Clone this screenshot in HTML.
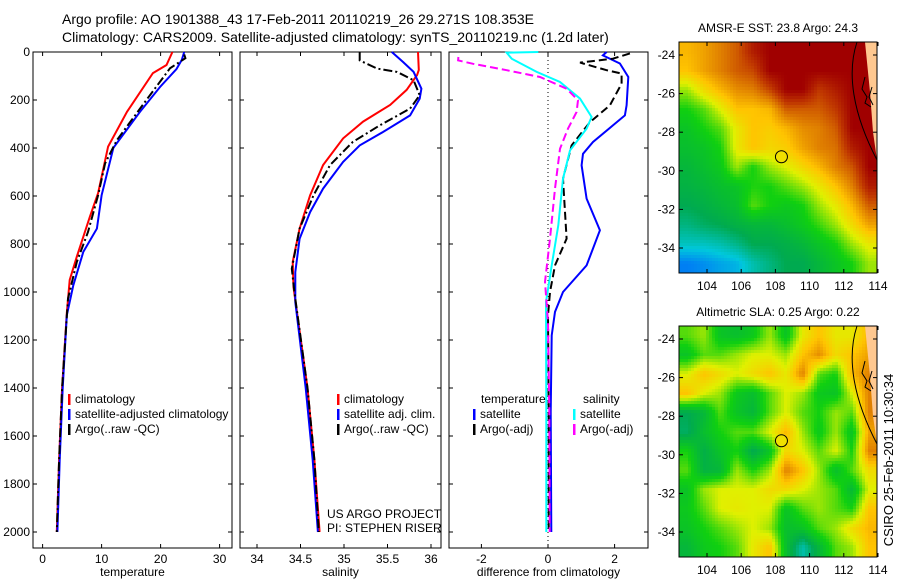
<!DOCTYPE html>
<html><head><meta charset="utf-8">
<style>
body{margin:0;background:#fff;}
svg{display:block;font-family:"Liberation Sans",sans-serif;}
text{fill:#000;}
</style></head>
<body>
<svg id="fig" width="900" height="580" viewBox="0 0 900 580" xmlns="http://www.w3.org/2000/svg">
<rect width="900" height="580" fill="#fff"/>
<text x="62" y="24" font-size="14">Argo profile: AO 1901388_43 17-Feb-2011 20110219_26 29.271S 108.353E</text>
<text x="62" y="42" font-size="14">Climatology: CARS2009. Satellite-adjusted climatology: synTS_20110219.nc (1.2d later)</text>
<g id="g1"></g>
<g id="g2"></g>
<g id="g3"></g>
<g id="m1"></g>
<g id="m2"></g>
<text x="0" y="0" font-size="13" transform="translate(893,460) rotate(-90)" text-anchor="middle">CSIRO 25-Feb-2011 10:30:34</text>
</svg>
<script>
// ---- profile data (depth in dbar, value) ----
const depthTempClim=[0,54,88,249,394,588,687,853,950,1088,1400,1700,2000];
const tempClim=[22.0,21.0,18.7,14.3,11.1,9.4,8.0,5.8,4.6,4.1,3.3,2.8,2.4];
const depthTempSat=[0,33,71,146,249,399,597,736,833,972,1097,1400,1700,2000];
const tempSat=[24.0,23.6,22.7,19.9,16.5,12.0,10.0,9.2,6.9,5.2,4.1,3.4,2.9,2.5];
const depthTempArgo=[10,26,68,200,367,464,597,750,875,1028,1400,1700,2000];
const tempArgo=[24.0,24.2,21.6,17.6,12.6,10.6,9.4,7.7,5.8,4.3,3.3,2.8,2.4];

const depthSalClim=[0,75,96,158,221,290,360,471,597,736,875,980,1400,1700,2000];
const salClim=[35.85,35.86,35.84,35.72,35.53,35.22,34.99,34.76,34.61,34.49,34.41,34.42,34.58,34.66,34.72];
const depthSalSat=[0,42,83,153,194,264,333,389,458,569,667,778,917,1042,1400,1700,2000];
const salSat=[35.55,35.68,35.80,35.89,35.87,35.76,35.45,35.18,34.99,34.76,34.61,34.49,34.44,34.44,34.56,34.64,34.70];
const depthSalArgo=[0,35,69,83,118,180,236,306,375,471,597,736,903,1000,1400,1700,2000];
const salArgo=[35.18,35.18,35.38,35.61,35.80,35.87,35.76,35.41,35.10,34.84,34.65,34.49,34.40,34.43,34.58,34.66,34.71];

const depthDTSat=[0,14,48,104,222,264,306,375,424,472,611,743,889,1000,1083,1181,1500,2000];
const diffTSat=[1.76,1.65,2.16,2.41,2.36,2.31,1.95,1.35,1.05,1.01,1.16,1.56,1.16,0.45,0.21,0.11,0.08,0.10];
const depthDTArgo=[6,28,44,76,90,132,222,292,389,528,778,889,1000,1097,1500,2000];
const diffTArgo=[2.46,1.95,0.96,1.76,2.21,2.21,1.86,1.26,0.71,0.45,0.56,0.21,0.06,0.0,0.02,0.02];
const depthDSSat=[0,3,28,83,125,194,271,319,410,528,722,889,1042,1500,2000];
const diffSSat=[-0.29,-1.24,-1.09,-0.34,0.36,0.96,1.31,1.16,0.66,0.45,0.31,0.11,-0.06,-0.05,-0.05];
const depthDSArgo=[21,35,49,76,104,153,201,250,319,403,569,778,958,1125,1500,2000];
const diffSArgo=[-2.69,-2.70,-2.25,-1.24,-0.24,0.56,0.90,0.86,0.60,0.36,0.21,0.06,-0.09,0.0,0.04,0.05];

const depthTicks=[0,200,400,600,800,1000,1200,1400,1600,1800,2000];
const tempTicks=[0,10,20,30];
const salTicks=[34,34.5,35,35.5,36];
const salTickLabels=["34","34.5","35","35.5","36"];
const diffTicks=[-2,0,2];
const diffTickLabels=["-2","0","2"];

// ---- map data (normalized colour index 0..1, rows top->bottom) ----
const sstRow0=[.72,.75,.80,.85,.95,1,1,1,1,1,1,1];
const sstRow1=[.70,.75,.80,.85,.88,1,1,1,1,1,1,1];
const sstRow2=[.55,.65,.72,.78,.80,.88,1,1,.90,.95,1,1];
const sstRow3=[.45,.50,.60,.70,.70,.72,.85,.85,.85,.90,1,1];
const sstRow4=[.40,.45,.50,.62,.70,.68,.72,.78,.80,.85,1,1];
const sstRow5=[.38,.40,.45,.62,.70,.66,.68,.75,.80,.82,.95,1];
const sstRow6=[.35,.38,.42,.55,.45,.55,.60,.66,.72,.80,.86,1];
const sstRow7=[.33,.35,.38,.40,.46,.45,.50,.55,.62,.70,.80,.95];
const sstRow8=[.30,.32,.35,.38,.50,.45,.42,.45,.55,.62,.72,.85];
const sstRow9=[.25,.28,.30,.33,.35,.35,.38,.42,.48,.55,.65,.75];
const sstRow10=[.18,.18,.20,.24,.30,.30,.32,.35,.40,.45,.55,.62];
const sstRow11=[.05,.07,.10,.12,.20,.25,.30,.30,.35,.40,.45,.55];
const slaRow0=[.50,.55,.40,.38,.42,.55,.40,.62,.70,.62,.62,.72];
const slaRow1=[.40,.50,.50,.55,.60,.60,.55,.70,.78,.65,.70,.75];
const slaRow2=[.60,.70,.65,.60,.65,.70,.62,.80,.50,.45,.72,.80];
const slaRow3=[.70,.60,.55,.42,.38,.50,.60,.55,.42,.40,.60,.80];
const slaRow4=[.30,.35,.50,.40,.35,.50,.60,.50,.45,.55,.50,.80];
const slaRow5=[.28,.38,.45,.50,.50,.60,.72,.55,.42,.55,.40,.75];
const slaRow6=[.45,.32,.40,.45,.30,.40,.66,.60,.50,.60,.45,.80];
const slaRow7=[.50,.33,.35,.55,.45,.55,.80,.70,.55,.38,.50,.65];
const slaRow8=[.40,.55,.60,.60,.60,.65,.65,.60,.55,.50,.36,.60];
const slaRow9=[.42,.50,.60,.62,.60,.60,.40,.50,.55,.50,.45,.70];
const slaRow10=[.40,.45,.50,.55,.60,.55,.38,.40,.50,.55,.65,.72];
const slaRow11=[.35,.42,.45,.50,.62,.70,.38,.20,.35,.50,.55,.70];
const mapLonTicks=[104,106,108,110,112,114];
const mapLatTicks=[-24,-26,-28,-30,-32,-34];
const floatLon=108.353, floatLat=-29.271;

const NS="http://www.w3.org/2000/svg";
function mk(parent,tag,attrs){const e=document.createElementNS(NS,tag);for(const k in attrs)e.setAttribute(k,attrs[k]);parent.appendChild(e);return e;}
const Y=d=>52+0.24*d;
const PT=52,PB=548;

function panel(g,x0,x1,xf,xticks,xlabels,xtitle,showY){
  mk(g,'rect',{x:x0,y:PT,width:x1-x0,height:PB-PT,fill:'none',stroke:'#000','stroke-width':1});
  depthTicks.forEach(d=>{
    const y=Y(d);
    let t=mk(g,'line',{x1:x0,x2:x0+4,y1:y,y2:y,stroke:'#000'});
    t=mk(g,'line',{x1:x1-4,x2:x1,y1:y,y2:y,stroke:'#000'});
    if(showY){const l=mk(g,'text',{x:x0-3,y:y+4,'font-size':12,'text-anchor':'end'});l.textContent=d;}
  });
  xticks.forEach((v,i)=>{
    const x=xf(v);
    let t=mk(g,'line',{x1:x,x2:x,y1:PB,y2:PB-4,stroke:'#000'});
    t=mk(g,'line',{x1:x,x2:x,y1:PT,y2:PT+4,stroke:'#000'});
    const l=mk(g,'text',{x:x,y:PB+15,'font-size':12,'text-anchor':'middle'});l.textContent=xlabels[i];
  });
  const tt=mk(g,'text',{x:(x0+x1)/2,y:576,'font-size':12,'text-anchor':'middle'});tt.textContent=xtitle;
}
function line(g,xf,depths,vals,color,dash,name){
  const pts=depths.map((d,i)=>xf(vals[i]).toFixed(1)+','+Y(d).toFixed(1)).join(' ');
  const p=mk(g,'polyline',{points:pts,fill:'none',stroke:color,'stroke-width':2});
  if(dash)p.setAttribute('stroke-dasharray',dash);
  
  
}
function legend(g,x,y,items){
  items.forEach((it,i)=>{
    const yy=y+i*15;
    const m=mk(g,'rect',{x:x,y:yy-9,width:2.5,height:11,fill:it[1]});
    const t=mk(g,'text',{x:x+7,y:yy,'font-size':12});t.textContent=it[0];
  });
}

const xT=v=>42.6+5.9*v, xS=v=>257+87*(v-34), xD=v=>548+33.3*v;
const g1=document.getElementById('g1'),g2=document.getElementById('g2'),g3=document.getElementById('g3');
panel(g1,33,232,xT,tempTicks,tempTicks.map(String),'temperature',true);
line(g1,xT,depthTempClim,tempClim,'#f00',null,'temp-climatology-line');
line(g1,xT,depthTempSat,tempSat,'#00f',null,'temp-satellite-line');
line(g1,xT,depthTempArgo,tempArgo,'#000','9,3,2,3','temp-argo-line');
legend(g1,68,403,[['climatology','#f00'],['satellite-adjusted climatology','#00f'],['Argo(..raw -QC)','#000']]);

panel(g2,240,441,xS,salTicks,salTickLabels,'salinity',false);
line(g2,xS,depthSalClim,salClim,'#f00',null,'sal-climatology-line');
line(g2,xS,depthSalSat,salSat,'#00f',null,'sal-satellite-line');
line(g2,xS,depthSalArgo,salArgo,'#000','9,3,2,3','sal-argo-line');
legend(g2,337,403,[['climatology','#f00'],['satellite adj. clim.','#00f'],['Argo(..raw -QC)','#000']]);
let c=mk(g2,'text',{x:327,y:518,'font-size':12});c.textContent='US ARGO PROJECT';
c=mk(g2,'text',{x:327,y:532,'font-size':12});c.textContent='PI: STEPHEN RISER';

panel(g3,449,648,xD,diffTicks,diffTickLabels,'difference from climatology',false);
const zl=mk(g3,'line',{x1:xD(0),x2:xD(0),y1:PT,y2:PB,stroke:'#000','stroke-dasharray':'1,3'});
line(g3,xD,depthDTSat,diffTSat,'#00f',null,'diff-temp-satellite-line');
line(g3,xD,depthDTArgo,diffTArgo,'#000','8,4','diff-temp-argo-line');
line(g3,xD,depthDSSat,diffSSat,'#0ff',null,'diff-sal-satellite-line');
line(g3,xD,depthDSArgo,diffSArgo,'#f0f','8,4','diff-sal-argo-line');
c=mk(g3,'text',{x:481,y:403,'font-size':12});c.textContent='temperature';
c=mk(g3,'text',{x:583,y:403,'font-size':12});c.textContent='salinity';
legend(g3,473,418,[['satellite','#00f'],['Argo(-adj)','#000']]);
legend(g3,573,418,[['satellite','#0ff'],['Argo(-adj)','#f0f']]);

// ---- maps ----
const cmapStops=[[0,[0,90,255]],[0.15,[0,200,220]],[0.3,[0,170,80]],[0.45,[16,208,16]],[0.6,[224,240,0]],[0.7,[255,196,0]],[0.8,[224,128,0]],[0.9,[192,56,0]],[1,[160,0,0]]];
function cmap(v){
  for(let i=1;i<cmapStops.length;i++){if(v<=cmapStops[i][0]){const a=cmapStops[i-1],b=cmapStops[i],t=(v-a[0])/(b[0]-a[0]);
    return 'rgb('+a[1].map((c,k)=>Math.round(c+(b[1][k]-c)*t)).join(',')+')';}}
  return 'rgb(160,0,0)';
}
function drawMap(g,top,grid,title,landFill){
  const L=679,R=877,T=top,B=top+231;
  const xL=lon=>707+(lon-104)*17.1, yL=lat=>(top+13)+(-24-lat)*19.3;
  const nr=grid.length,nc=grid[0].length,cw=(R-L)/nc,ch=(B-T)/nr,step=3;
  for(let y=T;y<B;y+=step)for(let x=L;x<R;x+=step){
    let fx=(x+step/2-L)/cw-0.5, fy=(y+step/2-T)/ch-0.5;
    fx=Math.max(0,Math.min(nc-1.001,fx));fy=Math.max(0,Math.min(nr-1.001,fy));
    const i=Math.floor(fy),j=Math.floor(fx),tx=fx-j,ty=fy-i;
    const v=grid[i][j]*(1-tx)*(1-ty)+grid[i][j+1]*tx*(1-ty)+grid[i+1][j]*(1-tx)*ty+grid[i+1][j+1]*tx*ty;
    const r=mk(g,'rect',{x:x,y:y,width:Math.min(step,R-x),height:Math.min(step,B-y),fill:cmap(v)});
    
    
  }
  const land=mk(g,'polygon',{points:`${R-12},${T} ${R},${T} ${R},${T+118} ${R-4},${T+90} ${R-7},${T+50}`,fill:'#ffc890'});
  
  const ct=mk(g,'path',{d:`M${R-20},${T} C${R-30},${T+30} ${R-25},${T+70} ${R},${T+118}`,fill:'none',stroke:'#000','stroke-width':1});
  
  const ct2=mk(g,'path',{d:`M${R-12},${T+35} l-3,12 l5,8 l-2,6 l6,4 M${R-5},${T+45} l-3,10 l4,8`,fill:'none',stroke:'#000','stroke-width':1});
  
  mk(g,'rect',{x:L,y:T,width:R-L,height:B-T,fill:'none',stroke:'#000'});
  mapLonTicks.forEach(v=>{const x=xL(v);
    let t=mk(g,'line',{x1:x,x2:x,y1:B,y2:B-4,stroke:'#000'});
    t=mk(g,'line',{x1:x,x2:x,y1:T,y2:T+4,stroke:'#000'});
    const l=mk(g,'text',{x:x,y:B+17,'font-size':12,'text-anchor':'middle'});l.textContent=v;});
  mapLatTicks.forEach(v=>{const y=yL(v);
    let t=mk(g,'line',{x1:L,x2:L+4,y1:y,y2:y,stroke:'#000'});
    t=mk(g,'line',{x1:R-4,x2:R,y1:y,y2:y,stroke:'#000'});
    const l=mk(g,'text',{x:L-4,y:y+4,'font-size':12,'text-anchor':'end'});l.textContent=v;});
  const ci=mk(g,'circle',{cx:xL(floatLon),cy:yL(floatLat),r:6,fill:'#f0e000',stroke:'#000'});
  
  const tt=mk(g,'text',{x:(L+R)/2,y:T-10,'font-size':12,'text-anchor':'middle'});tt.textContent=title;
}
drawMap(document.getElementById('m1'),42,[sstRow0,sstRow1,sstRow2,sstRow3,sstRow4,sstRow5,sstRow6,sstRow7,sstRow8,sstRow9,sstRow10,sstRow11],'AMSR-E SST: 23.8 Argo: 24.3');
drawMap(document.getElementById('m2'),326,[slaRow0,slaRow1,slaRow2,slaRow3,slaRow4,slaRow5,slaRow6,slaRow7,slaRow8,slaRow9,slaRow10,slaRow11],'Altimetric SLA: 0.25 Argo: 0.22');
</script>
</body></html>
